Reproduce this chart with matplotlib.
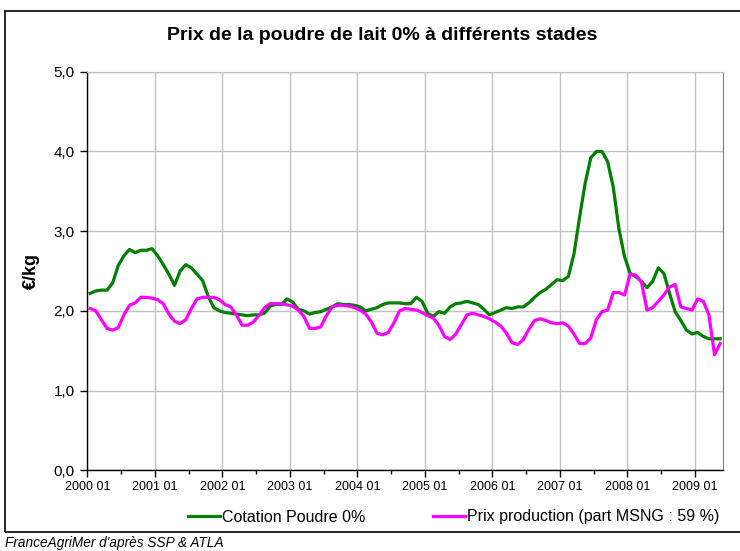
import matplotlib
matplotlib.use("Agg")
import matplotlib.pyplot as plt
from matplotlib.patches import Rectangle
from matplotlib.ticker import FixedLocator, FuncFormatter

plt.rcParams['font.family'] = ['Liberation Sans', 'DejaVu Sans']

# Mensuel, de 2000 01 a 2009 05 (EUR/kg)
cotation = [
    2.22, 2.25, 2.26, 2.26, 2.35, 2.57, 2.69, 2.77, 2.73, 2.76, 2.76, 2.78,
    2.69, 2.58, 2.46, 2.32, 2.50, 2.58, 2.54, 2.46, 2.38, 2.18, 2.04, 2.00,
    1.98, 1.97, 1.96, 1.95, 1.94, 1.95, 1.95, 1.97, 2.06, 2.08, 2.08, 2.15,
    2.11, 2.02, 2.00, 1.96, 1.98, 1.99, 2.02, 2.05, 2.09, 2.08, 2.08, 2.07,
    2.05, 2.00, 2.02, 2.04, 2.08, 2.10, 2.10, 2.10, 2.09, 2.09, 2.17, 2.12,
    1.97, 1.93, 1.99, 1.97, 2.05, 2.09, 2.10, 2.12, 2.10, 2.08, 2.02, 1.95,
    1.98, 2.01, 2.04, 2.03, 2.05, 2.05, 2.10, 2.17, 2.23, 2.27, 2.33, 2.39,
    2.38, 2.43, 2.71, 3.17, 3.60, 3.92, 4.00, 4.00, 3.87, 3.55, 3.03, 2.68,
    2.47, 2.43, 2.37, 2.29, 2.37, 2.54, 2.47, 2.22, 1.99, 1.88, 1.76, 1.71,
    1.73, 1.68, 1.65, 1.65, 1.65,
]
prix_production = [
    2.03, 2.00, 1.89, 1.78, 1.76, 1.79, 1.95, 2.07, 2.10, 2.17, 2.17, 2.16,
    2.14, 2.09, 1.96, 1.87, 1.84, 1.89, 2.03, 2.15, 2.17, 2.17, 2.17, 2.14,
    2.08, 2.05, 1.95, 1.82, 1.82, 1.86, 1.94, 2.04, 2.09, 2.09, 2.09, 2.075,
    2.06, 2.01, 1.93, 1.78, 1.78, 1.80, 1.94, 2.05, 2.07, 2.07, 2.06, 2.04,
    2.01, 1.96, 1.86, 1.72, 1.70, 1.73, 1.85, 2.00, 2.03, 2.02, 2.01, 1.98,
    1.94, 1.91, 1.82, 1.68, 1.64, 1.71, 1.83, 1.95, 1.97, 1.95, 1.93, 1.90,
    1.86, 1.81, 1.72, 1.60, 1.58, 1.64, 1.77, 1.88, 1.90, 1.88, 1.85, 1.84,
    1.85, 1.81, 1.71, 1.59, 1.59, 1.66, 1.89, 1.99, 2.01, 2.23, 2.23, 2.20,
    2.46, 2.45, 2.36, 2.01, 2.04, 2.12, 2.20, 2.30, 2.33, 2.05, 2.03, 2.01,
    2.15, 2.12, 1.95, 1.45, 1.59,
]
annees = ["2000 01", "2001 01", "2002 01", "2003 01", "2004 01",
          "2005 01", "2006 01", "2007 01", "2008 01", "2009 01"]

n = len(cotation)
x = [i + 0.5 for i in range(n)]

fig = plt.figure(figsize=(7.4, 5.51), dpi=100)
ax = fig.add_axes([0.118, 0.1463, 0.859, 0.7237])

ax.plot(x, cotation, color='#008000', lw=2.3, label="Cotation Poudre 0%")
ax.plot(x, prix_production, color='#ff00ff', lw=2.3,
        label="Prix production (part MSNG : 59 %)")

ax.set_xlim(0, n)
ax.set_ylim(0, 5)

ax.xaxis.set_major_locator(FixedLocator([12 * k for k in range(len(annees))]))
ax.xaxis.set_minor_locator(FixedLocator([12 * k + 6 for k in range(len(annees))]))
ax.set_xticklabels(annees, fontsize=9)
ax.set_yticks([0, 1, 2, 3, 4, 5])
ax.yaxis.set_major_formatter(FuncFormatter(lambda v, p: f"{v:.1f}".replace('.', ',')))
ax.tick_params(axis='y', labelsize=11, length=5, width=1, direction='out', pad=4)
ax.tick_params(axis='x', which='major', length=5, width=1, direction='out', pad=3)
ax.tick_params(axis='x', which='minor', length=3, width=1, direction='out')

ax.grid(True, which='major', color='#c0c0c0', lw=1)
ax.set_axisbelow(True)
for s in ['left', 'bottom']:
    ax.spines[s].set_color('black')
    ax.spines[s].set_linewidth(1)
ax.spines['top'].set_color('#c0c0c0')
ax.spines['right'].set_color('#808080')

ax.set_ylabel("€/kg", fontsize=13, fontweight='bold', labelpad=10)

fig.text(0.516, 1 - 35 / 551, "Prix de la poudre de lait 0% à différents stades",
         ha='center', va='center', fontsize=14, fontweight='bold')

fig.legend(loc='center', bbox_to_anchor=(0.613, 1 - 517 / 551), ncol=2,
           frameon=False, fontsize=11.5, handlelength=2.0, handletextpad=0.15,
           columnspacing=4.2)

fig.text(0.007, 1 - 543 / 551, "FranceAgriMer d'après SSP & ATLA",
         ha='left', va='center', fontsize=9.8, fontstyle='italic')

# cadre du graphique
fig.patches.append(Rectangle((5 / 740, 1 - 532 / 551), 740, (532 - 11) / 551,
                             transform=fig.transFigure, fill=False,
                             edgecolor='black', lw=1.2))

fig.savefig("out.png", dpi=100)
